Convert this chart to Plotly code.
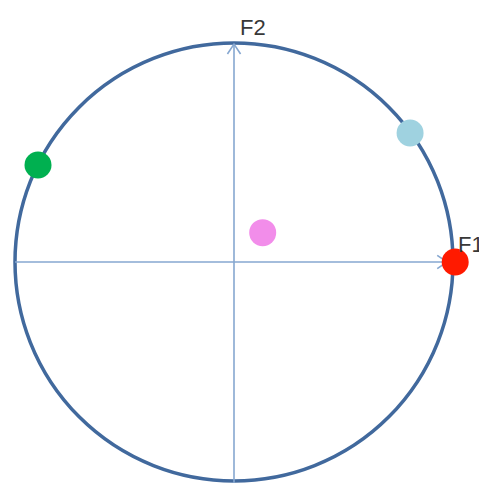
import plotly.graph_objects as go

# Data: variables on correlation circle
var_names = ["V1", "V2", "V3", "V4"]
f1_values = [1.01, -0.895, 0.804, 0.131]
f2_values = [0.0, 0.443, 0.589, 0.134]
point_colors = ["#FF1A00", "#00B050", "#9FD2E0", "#F28DEA"]
axis_labels = ["F1", "F2"]

circle_color = "#41699D"
axis_color = "#86A7D0"

# page offset compensation (body margin)
off = 8
scale = 219.0
cx, cy = 234 - off, 262 - off

fig = go.Figure()

# axes lines
fig.add_trace(go.Scatter(x=[-1.0, 0.973], y=[0, 0], mode="lines",
                         line=dict(color=axis_color, width=1.6), hoverinfo="skip"))
fig.add_trace(go.Scatter(x=[0, 0], y=[-1.06, 0.995], mode="lines",
                         line=dict(color=axis_color, width=1.6), hoverinfo="skip"))
# open chevron arrow heads
fig.add_trace(go.Scatter(x=[0.928, 0.973, 0.928], y=[0.03, 0, -0.03], mode="lines",
                         line=dict(color=axis_color, width=1.6), hoverinfo="skip"))
fig.add_trace(go.Scatter(x=[-0.03, 0, 0.03], y=[0.95, 0.995, 0.95], mode="lines",
                         line=dict(color=axis_color, width=1.6), hoverinfo="skip"))

# points
fig.add_trace(go.Scatter(x=f1_values, y=f2_values, mode="markers", text=var_names,
                         marker=dict(size=27, color=point_colors, line=dict(width=0))))

fig.add_shape(type="circle", xref="x", yref="y", x0=-1, y0=-1, x1=1, y1=1,
              line=dict(color=circle_color, width=3.5), layer="below")

fig.add_annotation(x=1.082, y=0.078, text=axis_labels[0], showarrow=False,
                   font=dict(family="Liberation Sans, Arial", size=22, color="#383838"))
fig.add_annotation(x=0.087, y=1.073, text=axis_labels[1], showarrow=False,
                   font=dict(family="Liberation Sans, Arial", size=22, color="#383838"))

fig.update_layout(
    width=487, height=483,
    margin=dict(l=0, r=0, t=0, b=0),
    paper_bgcolor="white", plot_bgcolor="white",
    showlegend=False,
    xaxis=dict(range=[-cx/scale, (487-cx)/scale], visible=False, fixedrange=True),
    yaxis=dict(range=[-(483-cy)/scale, cy/scale], visible=False, fixedrange=True),
)

fig.write_html("out.html")
